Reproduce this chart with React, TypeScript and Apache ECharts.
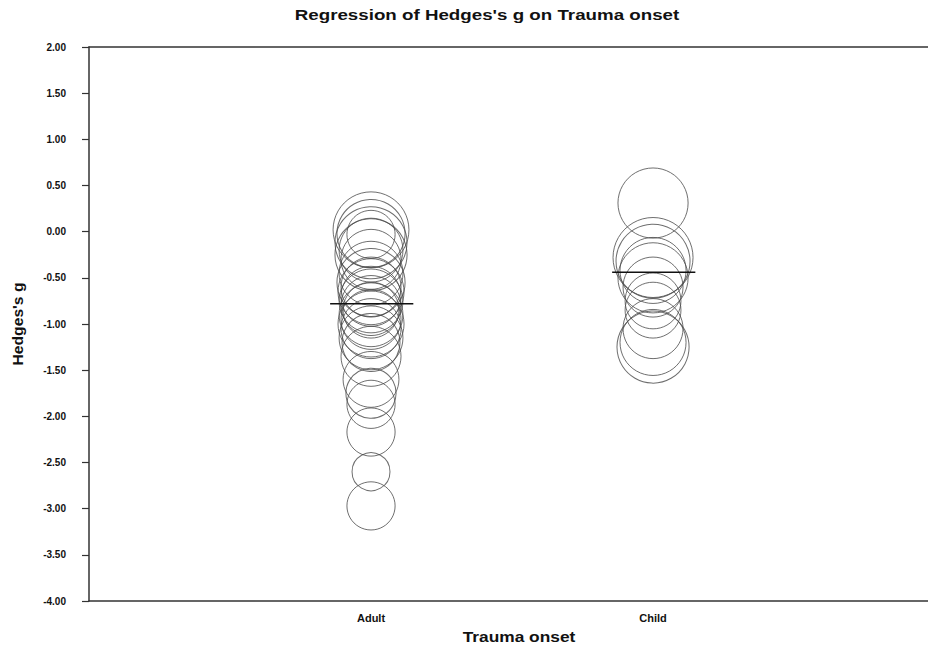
import React, { useEffect, useRef } from "react";
import * as echarts from "echarts";

const categories = ["Adult", "Child"];
const yTicks = [2, 1.5, 1, 0.5, 0, -0.5, -1, -1.5, -2, -2.5, -3, -3.5, -4];

// Hedges's g per study and study weight (bubble area)
const adultG = [0.02, -0.02, -0.03, -0.12, -0.2, -0.25, -0.3, -0.45, -0.55, -0.6, -0.65, -0.7, -0.75, -0.8, -0.85, -0.9, -0.95, -1.0, -1.05, -1.15, -1.2, -1.35, -1.6, -1.75, -1.87, -2.17, -2.6, -2.97];
const adultW = [14.4, 11.6, 5.8, 13.0, 10.2, 13.0, 9.0, 10.2, 11.6, 9.0, 10.9, 9.0, 10.2, 9.0, 7.8, 10.2, 9.0, 10.9, 9.0, 10.2, 8.4, 9.0, 7.8, 6.3, 5.8, 5.8, 3.6, 5.8];
const childG = [0.31, -0.28, -0.32, -0.42, -0.5, -0.6, -0.75, -0.85, -1.05, -1.2, -1.25];
const childW = [12.3, 16.0, 13.7, 10.9, 12.3, 9.0, 7.8, 7.8, 9.0, 10.9, 13.0];

// Regression (predicted g per group)
const predicted = [-0.78, -0.44];

const radius = (w: number) => 10 * Math.sqrt(w);

export default function App() {
  const ref = useRef<HTMLDivElement>(null);
  useEffect(() => {
    if (!ref.current) return;
    const chart = echarts.init(ref.current, null, { renderer: "svg" });
    const font = "Liberation Sans, Arial, sans-serif";
    const bubbles = (pos: number, g: number[], w: number[]) =>
      g.map((v, i) => [pos, v, w[i]]);
    const regLines = predicted.map((p, i) => ({
      type: "line",
      data: [[i + 1 - 0.145, p], [i + 1 + 0.15, p]],
      symbol: "none",
      lineStyle: { color: "#111", width: 1.5 },
      z: 5,
    }));
    const bubbleStyle = { color: "rgba(0,0,0,0)", borderColor: "#4a4a4a", borderWidth: 1 };
    chart.setOption({
      animation: false,
      backgroundColor: "#fff",
      grid: { left: 89, right: 0, top: 47, bottom: 52 },
      xAxis: [
        {
          type: "value",
          min: 0,
          max: 2.975,
          interval: 1,
          position: "bottom",
          axisLine: { show: true, onZero: false, lineStyle: { color: "#333", width: 1.5 } },
          axisTick: { show: false },
          splitLine: { show: false },
          axisLabel: {
            margin: 11,
            fontSize: 11,
            fontWeight: "bold",
            fontFamily: font,
            color: "#111",
            formatter: (v: number) => categories[v - 1] ?? "",
            showMinLabel: false,
            showMaxLabel: false,
          },
        },
        {
          type: "value",
          min: 0,
          max: 2.975,
          position: "top",
          axisLine: { show: true, onZero: false, lineStyle: { color: "#333", width: 1.5 } },
          axisTick: { show: false },
          axisLabel: { show: false },
          splitLine: { show: false },
        },
      ],
      yAxis: {
        type: "value",
        min: -4,
        max: 2,
        interval: 0.5,
        axisLine: { show: true, onZero: false, lineStyle: { color: "#333", width: 1.5 } },
        axisTick: { show: true, length: 7, lineStyle: { color: "#333", width: 1.2 } },
        splitLine: { show: false },
        axisLabel: {
          margin: 23,
          fontSize: 10,
          fontWeight: "bold",
          fontFamily: font,
          color: "#111",
          formatter: (v: number) => v.toFixed(2),
        },
      },
      series: [
        {
          type: "scatter",
          data: bubbles(1, adultG, adultW),
          symbol: "circle",
          symbolSize: (d: number[]) => 2 * radius(d[2]),
          itemStyle: bubbleStyle,
        },
        {
          type: "scatter",
          data: bubbles(2, childG, childW),
          symbol: "circle",
          symbolSize: (d: number[]) => 2 * radius(d[2]),
          itemStyle: bubbleStyle,
        },
        ...regLines,
      ],
      graphic: [
        {
          type: "text",
          x: 487,
          y: 15,
          scaleX: 1.25,
          style: {
            text: "Regression of Hedges's g on Trauma onset",
            fontSize: 15,
            fontWeight: "bold",
            fontFamily: font,
            fill: "#111",
            textAlign: "center",
            textVerticalAlign: "middle",
          },
        },
        {
          type: "text",
          x: 519,
          y: 637,
          scaleX: 1.24,
          style: {
            text: "Trauma onset",
            fontSize: 14,
            fontWeight: "bold",
            fontFamily: font,
            fill: "#111",
            textAlign: "center",
            textVerticalAlign: "middle",
          },
        },
        {
          type: "text",
          x: 18,
          y: 324,
          rotation: Math.PI / 2,
          scaleX: 1.12,
          style: {
            text: "Hedges's g",
            fontSize: 14,
            fontWeight: "bold",
            fontFamily: font,
            fill: "#111",
            textAlign: "center",
            textVerticalAlign: "middle",
          },
        },
      ],
    });
    return () => chart.dispose();
  }, []);
  return (
    <div
      ref={ref}
      style={{ position: "fixed", left: 0, top: 0, width: 928, height: 653 }}
    />
  );
}
